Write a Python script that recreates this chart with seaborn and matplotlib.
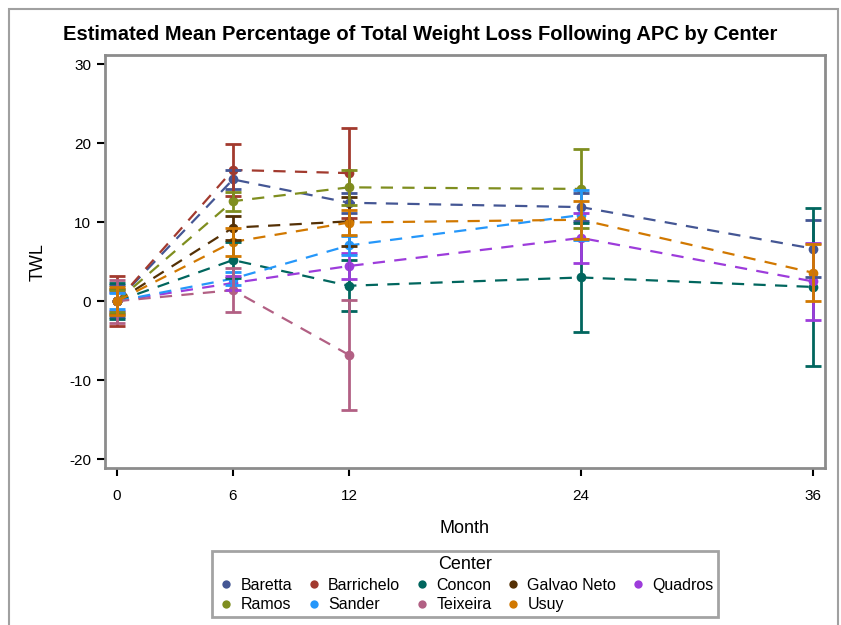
import matplotlib
matplotlib.use("Agg")
import matplotlib.pyplot as plt
from matplotlib.lines import Line2D
from matplotlib.patches import Rectangle
import seaborn as sns
import pandas as pd

months = [0, 6, 12, 24, 36]
centers = ["Baretta", "Barrichelo", "Concon", "Galvao Neto", "Quadros",
           "Ramos", "Sander", "Teixeira", "Usuy"]

baretta_twl = [0, 15.4, 12.45, 11.9, 6.65]
baretta_err = [2.0, 1.2, 1.25, 1.8, 3.65]
barrichelo_twl = [0, 16.6, 16.2]
barrichelo_err = [3.2, 3.3, 5.7]
concon_twl = [0, 5.2, 1.95, 3.0, 1.8]
concon_err = [2.3, 2.3, 3.2, 6.9, 10.0]
galvao_twl = [0, 9.3, 10.1]
galvao_err = [1.6, 1.5, 3.1]
quadros_twl = [0, 2.3, 4.45, 8.0, 2.5]
quadros_err = [1.2, 0.9, 1.6, 3.2, 4.9]
ramos_twl = [0, 12.65, 14.4, 14.2]
ramos_err = [1.4, 1.2, 2.2, 5.0]
sander_twl = [0, 2.85, 7.05, 10.9]
sander_err = [1.0, 0.8, 1.2, 3.2]
teixeira_twl = [0, 1.4, -6.8]
teixeira_err = [2.7, 2.75, 7.0]
usuy_twl = [0, 7.5, 9.95, 10.3, 3.6]
usuy_err = [1.8, 1.8, 1.6, 2.4, 3.6]

colors = ["#445694", "#A23A2E", "#01665E", "#543005", "#9D3CDB",
          "#7F8E1F", "#2597FA", "#B26084", "#D17800"]

series = {
    "Baretta": (baretta_twl, baretta_err),
    "Barrichelo": (barrichelo_twl, barrichelo_err),
    "Concon": (concon_twl, concon_err),
    "Galvao Neto": (galvao_twl, galvao_err),
    "Quadros": (quadros_twl, quadros_err),
    "Ramos": (ramos_twl, ramos_err),
    "Sander": (sander_twl, sander_err),
    "Teixeira": (teixeira_twl, teixeira_err),
    "Usuy": (usuy_twl, usuy_err),
}

rows = []
for c in centers:
    vals, errs = series[c]
    for m, v, e in zip(months, vals, errs):
        rows.append({"Center": c, "Month": m, "TWL": v, "Err": e})
df = pd.DataFrame(rows)

sns.set_style("white")
plt.rcParams["font.family"] = ["Liberation Sans", "DejaVu Sans"]
plt.rcParams["axes.unicode_minus"] = False
plt.rcParams["text.color"] = "black"
plt.rcParams["axes.labelcolor"] = "black"
plt.rcParams["xtick.color"] = "black"
plt.rcParams["ytick.color"] = "black"

fig = plt.figure(figsize=(8.41, 6.25), dpi=100)
ax = fig.add_axes([105/841, 1-468.3/625, (824.6-105)/841, (468.3-55)/625])

palette = dict(zip(centers, colors))
sns.lineplot(data=df, x="Month", y="TWL", hue="Center", hue_order=centers,
             palette=palette, marker="o", markersize=7, markeredgewidth=0,
             linewidth=1.6, dashes=False, linestyle=(0, (5.5, 4.2)),
             legend=False, ax=ax, estimator=None, sort=True, zorder=3)

for c in centers:
    d = df[df["Center"] == c]
    ax.errorbar(d["Month"], d["TWL"], yerr=d["Err"], fmt="none",
                ecolor=palette[c], elinewidth=2, capsize=6, capthick=2, zorder=3)

ax.set_xlim(-0.62, 36.6)
ax.set_ylim(-21.14, 31.14)
ax.set_xticks(months)
ax.set_yticks([-20, -10, 0, 10, 20, 30])
ax.tick_params(axis="both", which="major", length=6, width=1.5,
               labelsize=11, direction="out", bottom=True, left=True)
ax.tick_params(axis="x", pad=9)
ax.tick_params(axis="y", pad=4)
for t in ax.xaxis.get_ticklines() + ax.yaxis.get_ticklines():
    t.set_color("#8c8c8c")
for s in ax.spines.values():
    s.set_color("#8c8c8c")
    s.set_linewidth(2)
ax.set_xlabel("Month", fontsize=13, labelpad=12)
ax.set_ylabel("TWL", fontsize=13, labelpad=16)

fig.suptitle("Estimated Mean Percentage of Total Weight Loss Following APC by Center",
             x=0.5, y=1-34/625, va="center", fontsize=14.5, fontweight="bold")

# legend filled row-wise (matplotlib fills column-wise)
leg_order = ["Baretta", "Ramos", "Barrichelo", "Sander", "Concon", "Teixeira",
             "Galvao Neto", "Usuy", "Quadros"]
handles = [Line2D([], [], linestyle="none", marker="o", markersize=6,
                  markerfacecolor=palette[c], markeredgewidth=0) for c in leg_order]
leg = fig.legend(handles, leg_order, title="Center", ncol=5,
                 loc="upper center", bbox_to_anchor=(465/841, 1-543/625),
                 frameon=True, fancybox=False, fontsize=11.5, title_fontsize=13,
                 handletextpad=0.3, columnspacing=0.75, borderpad=0.3,
                 labelspacing=0.3, handlelength=1.2)
leg.get_frame().set_edgecolor("#8c8c8c")
leg.get_frame().set_linewidth(2)

fig.patches.append(Rectangle((9/841, -0.05), (838-9)/841, 1.05-9/625,
                             transform=fig.transFigure, fill=False,
                             edgecolor="#a0a0a0", linewidth=1.5))

fig.savefig("out.png", dpi=100)
